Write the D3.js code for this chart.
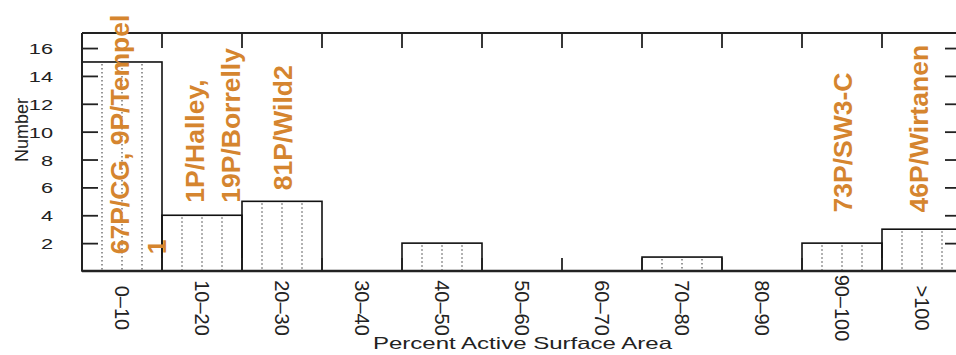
<!DOCTYPE html>
<html>
<head>
<meta charset="utf-8">
<script src="https://cdn.jsdelivr.net/npm/d3@7/dist/d3.min.js"></script>
<style>
  html, body { margin: 0; padding: 0; background: #fff; }
  svg { display: block; }
  text { font-family: "Liberation Sans", Arial, Helvetica, sans-serif; }
</style>
</head>
<body>
<svg id="chart" width="956" height="355"></svg>
<script>
// ---- data ----
const categories = ["0\u201310", "10\u201320", "20\u201330", "30\u201340", "40\u201350", "50\u201360", "60\u201370", "70\u201380", "80\u201390", "90\u2013100", ">100"];
const counts = [15, 4, 5, 0, 2, 0, 0, 1, 0, 2, 3];
const yTickValues = [2, 4, 6, 8, 10, 12, 14, 16];
const annotationCategories = ["0\u201310", "10\u201320", "20\u201330", "90\u2013100", ">100"];
const annotationTexts = [["67P/CG, 9P/Tempel", "1"], ["1P/Halley,", "19P/Borrelly"], ["81P/Wild2"], ["73P/SW3-C"], ["46P/Wirtanen"]];
const xTitle = "Percent Active Surface Area";
const yTitle = "Number";

(function () {
// ---- layout ----
const svg = d3.select("#chart");
const pL = 82, pR = 962, pT = 33, pB = 271;
const orange = "#d5852f";

const x = d3.scaleBand().domain(categories).range([pL, pR]).padding(0);
const y = d3.scaleLinear().domain([0, 17.08]).range([pB, pT]);

const data = categories.map((c, i) => ({ cat: c, value: counts[i] }));

// bars
const bars = svg.append("g");
bars.selectAll("rect").data(data.filter(d => d.value > 0)).join("rect")
  .attr("x", d => x(d.cat))
  .attr("y", d => y(d.value))
  .attr("width", x.bandwidth())
  .attr("height", d => y(0) - y(d.value))
  .attr("fill", "none")
  .attr("stroke", "#111")
  .attr("stroke-width", 1.6);

// dotted inner lines at quarter positions
const dots = [];
data.filter(d => d.value > 0).forEach(d => {
  [0.25, 0.5, 0.75].forEach(f => dots.push({ cat: d.cat, value: d.value, f }));
});
bars.selectAll("line.dot").data(dots).join("line")
  .attr("class", "dot")
  .attr("x1", d => x(d.cat) + x.bandwidth() * d.f)
  .attr("x2", d => x(d.cat) + x.bandwidth() * d.f)
  .attr("y1", d => y(d.value) + 2)
  .attr("y2", y(0))
  .attr("stroke", "#444")
  .attr("stroke-width", 1.1)
  .attr("stroke-dasharray", "1.5,2.5");

// frame
const frame = svg.append("g").attr("stroke", "#222").attr("fill", "none");
frame.append("line").attr("x1", pL).attr("x2", pR).attr("y1", pT).attr("y2", pT).attr("stroke-width", 2);
frame.append("line").attr("x1", pL).attr("x2", pR).attr("y1", pB).attr("y2", pB).attr("stroke-width", 2.4);
frame.append("line").attr("x1", pL).attr("x2", pL).attr("y1", pT).attr("y2", pB).attr("stroke-width", 2);
frame.append("line").attr("x1", pR).attr("x2", pR).attr("y1", pT).attr("y2", pB).attr("stroke-width", 2);

// y ticks, left (inward) and right (inward)
const yAxisL = d3.axisRight(y).tickValues(yTickValues).tickSize(16).tickFormat("");
const gL = svg.append("g").attr("transform", `translate(${pL},0)`).call(yAxisL);
gL.select(".domain").remove();
gL.selectAll(".tick line").attr("stroke", "#222").attr("stroke-width", 1.8);
const yAxisR = d3.axisLeft(y).tickValues(yTickValues).tickSize(17).tickFormat("");
const gR = svg.append("g").attr("transform", `translate(${pR},0)`).call(yAxisR);
gR.select(".domain").remove();
gR.selectAll(".tick line").attr("stroke", "#222").attr("stroke-width", 1.8);

// y tick labels (wide-looking)
svg.append("g").selectAll("text").data(yTickValues).join("text")
  .attr("transform", d => `translate(53,${y(d) + 6}) scale(1.5,1)`)
  .attr("text-anchor", "end")
  .attr("font-size", 14.5)
  .attr("fill", "#222")
  .text(d => d);

// x boundary ticks top & bottom
const bounds = categories.slice(1).map(c => x(c));
svg.append("g").selectAll("line").data(bounds).join("line")
  .attr("x1", d => d).attr("x2", d => d)
  .attr("y1", pT).attr("y2", pT + 15)
  .attr("stroke", "#222").attr("stroke-width", 1.8);
svg.append("g").selectAll("line").data(bounds).join("line")
  .attr("x1", d => d).attr("x2", d => d)
  .attr("y1", pB).attr("y2", pB - 13)
  .attr("stroke", "#222").attr("stroke-width", 1.8);

// x tick labels rotated
svg.append("g").selectAll("text").data(categories).join("text")
  .attr("transform", d => `translate(${x(d) + x.bandwidth() / 2},308) rotate(90)`)
  .attr("text-anchor", "middle")
  .attr("dominant-baseline", "central")
  .attr("font-size", 20)
  .attr("fill", "#222")
  .text(d => d);

// axis titles
svg.append("text")
  .attr("x", 373).attr("y", 349)
  .attr("font-size", 16.5)
  .attr("textLength", 299)
  .attr("lengthAdjust", "spacingAndGlyphs")
  .attr("fill", "#222")
  .text(xTitle);
svg.append("text")
  .attr("transform", "translate(28,130) rotate(-90)")
  .attr("text-anchor", "middle")
  .attr("font-size", 18)
  .attr("fill", "#222")
  .text(yTitle);

// annotations (placement: start value on y axis, horizontal offset of block center from band center)
const placement = {
  "0\u201310": { start: 1.2, dx: 16 },
  "10\u201320": { start: 4.9, dx: 10.5 },
  "20\u201330": { start: 5.8, dx: 0 },
  "90\u2013100": { start: 4.2, dx: 0 },
  ">100": { start: 4.2, dx: -4 }
};
const lineGap = 36.5;
annotationCategories.forEach((cat, i) => {
  const lines = annotationTexts[i];
  const p = placement[cat];
  const cx = x(cat) + x.bandwidth() / 2 + p.dx;
  lines.forEach((t, j) => {
    const base = cx + 9.5 + (j - (lines.length - 1) / 2) * lineGap;
    svg.append("text")
      .attr("transform", `translate(${base},${y(p.start)}) rotate(-90)`)
      .attr("text-anchor", "start")
      .attr("font-size", 26.5)
      .attr("font-weight", "bold")
      .attr("fill", orange)
      .text(t);
  });
});
})();
</script>
</body>
</html>
